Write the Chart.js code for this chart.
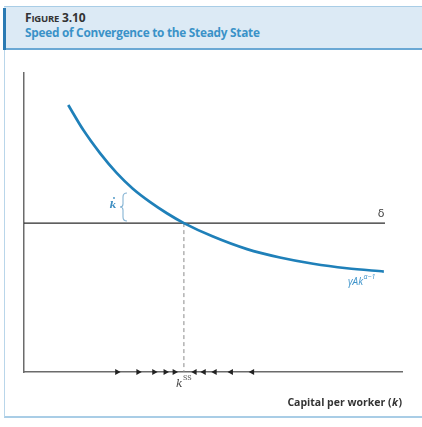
<!DOCTYPE html>
<html><head><meta charset="utf-8">
<script src="https://cdn.jsdelivr.net/npm/chart.js@4/dist/chart.umd.min.js"></script>
<style>
html,body{margin:0;padding:0;background:#fff;}
#wrap{position:relative;width:422px;height:427px;overflow:hidden;background:#fff;}
#frame{position:absolute;left:4px;top:6px;width:420px;height:412px;border-left:1px solid #b9d6ea;border-bottom:2px solid #a9cde6;border-top:1px solid #a9cde6;box-sizing:border-box;}
#head{position:absolute;left:4px;top:7px;width:418px;height:43px;background:#dceaf5;border-bottom:2px solid #6aa8d4;box-sizing:border-box;}
#bar{position:absolute;left:3px;top:8px;width:3px;height:42px;background:#2a7ab3;}
#fig{position:absolute;left:25px;top:9px;font-family:"Open Sans",sans-serif;font-weight:700;color:#333;font-size:12px;letter-spacing:-0.2px;}
#fig .sc{font-size:9.5px;}
#ttl{position:absolute;left:25px;top:24px;font-family:"Open Sans",sans-serif;font-weight:700;color:#3a92c8;font-size:11.8px;letter-spacing:-0.25px;white-space:nowrap;}
canvas{position:absolute;left:0;top:0;}
</style></head>
<body><div id="wrap">
<div id="frame"></div><div id="head"></div><div id="bar"></div>
<div id="fig">F<span class="sc">IGURE</span> 3.10</div>
<div id="ttl">Speed of Convergence to the Steady State</div>
<canvas id="c" width="422" height="427"></canvas>
</div>
<script>
// Curve gamma*A*k^(alpha-1) (k, value)
const curveK = [11.7, 15.7, 20.1, 24.5, 28.8, 33.3, 37.8, 42.3, 50.0, 59.0, 67.7, 76.5, 85.4, 95.2];
const curveV = [89.3, 80.9, 73.2, 66.6, 61.3, 56.9, 53.1, 49.8, 45.3, 41.1, 38.3, 36.2, 34.7, 33.6];
// delta line
const deltaK = [0, 95.5];
const deltaV = [49.8, 49.8];
// steady state
const kSS = 42.3;
const ssV = [49.8, 0];
// arrows on the k axis
const arrowsRight = [24.6, 30.2, 34.4, 37.4, 39.8];
const arrowsLeft = [45.2, 47.6, 50.5, 54.8, 60.4];

const pts = (xs, ys) => xs.map((x, i) => ({x, y: ys[i]}));

const labels = {
  id: 'labels',
  afterDatasetsDraw(chart) {
    const {ctx} = chart;
    ctx.save();
    // k-dot label and brace
    ctx.fillStyle = '#3f8fc2';
    ctx.font = 'italic bold 10px "DejaVu Serif", serif';
    ctx.textAlign = 'center'; ctx.textBaseline = 'middle';
    const kx = 113, ky = 205;
    ctx.fillText('k', kx, ky);
    ctx.beginPath(); ctx.arc(kx + 1, ky - 7, 0.9, 0, Math.PI * 2); ctx.fill();
    // brace
    ctx.strokeStyle = '#86b4d4'; ctx.lineWidth = 1.1;
    const bx = 123, by0 = 193, by1 = 221, bm = (by0 + by1) / 2;
    ctx.beginPath();
    ctx.moveTo(bx + 4, by0);
    ctx.quadraticCurveTo(bx, by0, bx, by0 + 4);
    ctx.lineTo(bx, bm - 3);
    ctx.quadraticCurveTo(bx, bm, bx - 3, bm);
    ctx.quadraticCurveTo(bx, bm, bx, bm + 3);
    ctx.lineTo(bx, by1 - 4);
    ctx.quadraticCurveTo(bx, by1, bx + 4, by1);
    ctx.stroke();
    // delta
    ctx.fillStyle = '#444';
    ctx.font = '11px "DejaVu Sans", sans-serif';
    ctx.fillText('δ', 381, 214);
    // gamma A k^(alpha-1)
    ctx.fillStyle = '#3f94cb';
    ctx.font = 'italic 10px "Open Sans", sans-serif';
    ctx.textAlign = 'left';
    ctx.fillText('γAk', 348, 282);
    const w = ctx.measureText('γAk').width;
    ctx.font = 'italic 7px "Open Sans", sans-serif';
    ctx.fillText('α−1', 348 + w + 0.5, 277);
    // k^ss
    ctx.fillStyle = '#444';
    ctx.font = 'italic 11px "DejaVu Serif", serif';
    ctx.textAlign = 'left';
    ctx.fillText('k', 176, 384);
    ctx.font = '6.5px "DejaVu Serif", serif';
    ctx.fillText('SS', 183, 378);
    // axis title
    ctx.fillStyle = '#333';
    const fs = 10.5;
    ctx.font = 'bold ' + fs + 'px "Open Sans", sans-serif';
    ctx.textAlign = 'right';
    const wClose = ctx.measureText(')').width;
    ctx.fillText(')', 402, 403);
    ctx.font = 'italic bold ' + fs + 'px "Open Sans", sans-serif';
    const wk = ctx.measureText('k').width;
    ctx.fillText('k', 402 - wClose - 0.5, 403);
    ctx.font = 'bold ' + fs + 'px "Open Sans", sans-serif';
    ctx.fillText('Capital per worker (', 402 - wClose - wk - 1, 403);
    ctx.restore();
  }
};

new Chart(document.getElementById('c'), {
  type: 'scatter',
  data: {
    datasets: [
      {data: pts(curveK, curveV), showLine: true, borderColor: '#1f80b9', borderWidth: 2.7, pointRadius: 0, cubicInterpolationMode: 'monotone', clip: false},
      {data: pts(deltaK, deltaV), showLine: true, borderColor: '#2a2a2a', borderWidth: 1.4, pointRadius: 0},
      {data: pts([kSS, kSS], ssV), showLine: true, borderColor: '#8a8a8a', borderWidth: 1, borderDash: [4, 3], pointRadius: 0},
      {data: arrowsRight.map(k => ({x: k, y: 0})), pointStyle: 'triangle', rotation: 90, pointRadius: 3.6, backgroundColor: '#222', borderColor: '#222', borderWidth: 0, clip: false},
      {data: arrowsLeft.map(k => ({x: k, y: 0})), pointStyle: 'triangle', rotation: -90, pointRadius: 3.6, backgroundColor: '#222', borderColor: '#222', borderWidth: 0, clip: false}
    ]
  },
  options: {
    responsive: false, animation: false, devicePixelRatio: 1,
    layout: {padding: {left: 24, top: 73, right: 20, bottom: 55}},
    plugins: {legend: {display: false}, tooltip: {enabled: false}},
    scales: {
      x: {min: 0, max: 100, grid: {display: false, drawTicks: false}, ticks: {display: false}, border: {display: true, color: '#6b6b6b', width: 1.5}},
      y: {min: 0, max: 100, grid: {display: false, drawTicks: false}, ticks: {display: false}, border: {display: true, color: '#6b6b6b', width: 1.5}}
    }
  },
  plugins: [labels]
});
</script>
</body></html>
